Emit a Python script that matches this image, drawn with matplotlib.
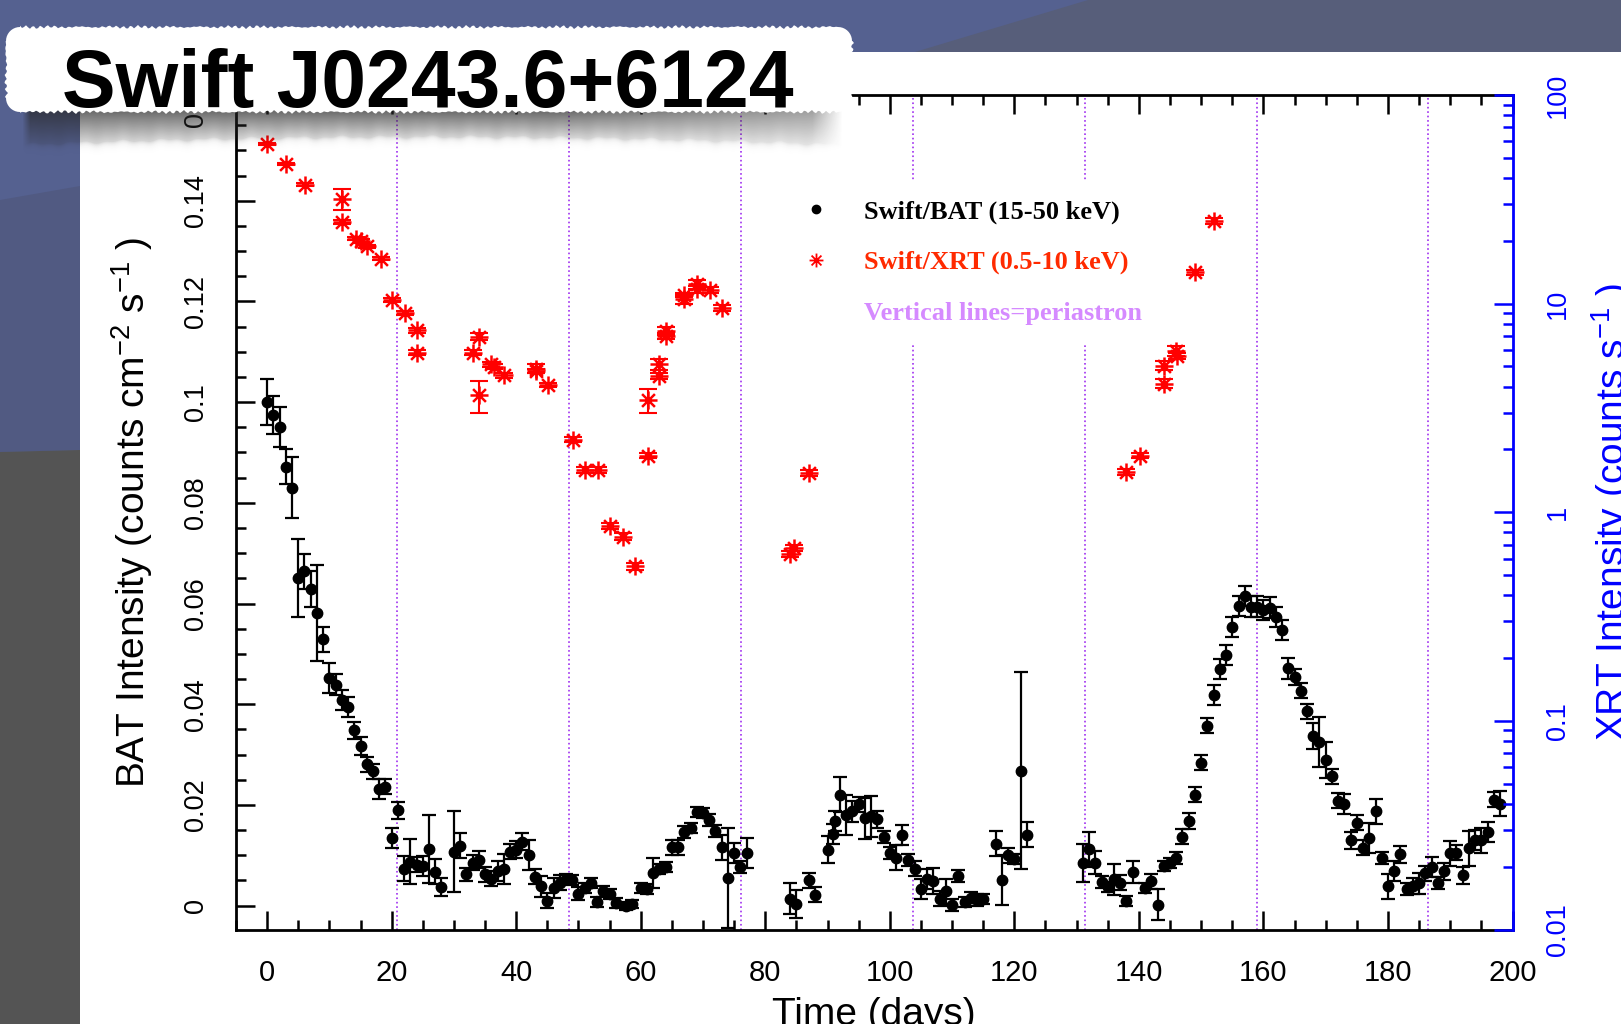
import numpy as np
import matplotlib
matplotlib.use('Agg')
import matplotlib.pyplot as plt
from matplotlib.path import Path
from matplotlib.patches import Polygon, Rectangle
from matplotlib.lines import Line2D
from matplotlib.ticker import MultipleLocator, FixedLocator, LogLocator, FuncFormatter, NullFormatter

# ---- Swift/BAT daily light curve (counts cm^-2 s^-1) ----
bat_day = [0, 1, 2, 3, 4, 5, 6, 7, 8, 9, 10, 11, 12, 13, 14, 15, 16, 17, 18, 19, 20, 21, 22, 23, 24, 25, 26, 27, 28,
           30, 31, 32, 33, 34, 35, 36, 37, 38, 39, 40, 41, 42, 43, 44, 45, 46, 47, 48, 49, 50, 51, 52, 53, 54, 55, 56,
           57.6, 58.6, 60, 61, 62, 63, 64, 65, 66, 67, 68, 69, 70, 71, 72, 73, 74, 75, 76, 77,
           84, 85, 87, 88, 90, 90.9, 91.2, 92, 93, 94, 95, 96, 97, 98, 99, 100, 101, 102, 103, 104, 105, 106,
           107, 108, 109, 110, 111, 112, 113, 114, 115, 117, 118, 119, 120, 121, 122,
           131, 132, 133, 134, 135, 136, 137, 138, 139,
           141, 142, 143, 144, 145, 146, 147, 148, 149, 150, 151, 152, 153, 154, 155, 156, 157, 158, 159, 160,
           161, 162, 163, 164, 165, 166, 167, 168, 169, 170, 171, 172, 173, 174, 175, 176, 177, 178, 179, 180,
           181, 182, 183, 184, 185, 186, 187, 188, 189, 190, 191, 192, 193, 194, 195, 196, 197, 198]
bat_rate = [0.1000, 0.0974, 0.0951, 0.0872, 0.0830, 0.0651, 0.0664, 0.0629, 0.0581, 0.0529, 0.0452, 0.0439,
            0.0408, 0.0394, 0.0348, 0.0317, 0.0281, 0.0267, 0.0232, 0.0236, 0.0135, 0.0189, 0.0073, 0.0087,
            0.0081, 0.0078, 0.0112, 0.0067, 0.0037,
            0.0107, 0.0119, 0.0062, 0.0085, 0.0091, 0.0062, 0.0053, 0.0069, 0.0073, 0.0107, 0.0111, 0.0127,
            0.0100, 0.0057, 0.0038, 0.0010, 0.0035, 0.0045, 0.0052, 0.0051, 0.0024, 0.0035, 0.0044, 0.0007,
            0.0028, 0.0023, 0.0006,
            0.0000, 0.0004, 0.0035, 0.0033, 0.0064, 0.0073, 0.0076, 0.0116, 0.0116, 0.0146, 0.0155, 0.0186,
            0.0184, 0.0170, 0.0149, 0.0116, 0.0055, 0.0104, 0.0076, 0.0104,
            0.0014, 0.0003, 0.0050, 0.0022, 0.0111, 0.0143, 0.0168, 0.0220, 0.0180, 0.0187, 0.0201, 0.0173,
            0.0177, 0.0171, 0.0137, 0.0104, 0.0095, 0.0141, 0.0090, 0.0073, 0.0033, 0.0052, 0.0049, 0.0014,
            0.0028, 0.0001, 0.0058, 0.0007, 0.0016, 0.0012, 0.0014, 0.0123, 0.0051, 0.0100, 0.0092, 0.0268,
            0.0141,
            0.0085, 0.0112, 0.0085, 0.0047, 0.0037, 0.0052, 0.0045, 0.0010, 0.0066,
            0.0035, 0.0048, 0.0002, 0.0078, 0.0085, 0.0095, 0.0137, 0.0168, 0.0220, 0.0284,
            0.0357, 0.0419, 0.0470, 0.0497, 0.0554, 0.0595, 0.0615, 0.0594, 0.0594, 0.0587,
            0.0592, 0.0574, 0.0547, 0.0471, 0.0454, 0.0427, 0.0386, 0.0337, 0.0325, 0.0289,
            0.0257, 0.0208, 0.0202, 0.0130, 0.0165, 0.0115, 0.0135, 0.0187, 0.0094, 0.0038,
            0.0068, 0.0102, 0.0033, 0.0039, 0.0044, 0.0064, 0.0077, 0.0045, 0.0068, 0.0104,
            0.0105, 0.0060, 0.0114, 0.0131, 0.0130, 0.0147, 0.0210, 0.0202]
bat_err = [0.0045, 0.0038, 0.0040, 0.0035, 0.0060, 0.0077, 0.0035, 0.0035, 0.0095, 0.0025, 0.0030, 0.0020,
           0.0020, 0.0020, 0.0017, 0.0017, 0.0015, 0.0015, 0.0020, 0.0015, 0.0020, 0.0017, 0.0025, 0.0045,
           0.0015, 0.0020, 0.0068, 0.0025, 0.0017,
           0.0080, 0.0025, 0.0013, 0.0015, 0.0017, 0.0015, 0.0015, 0.0020, 0.0030, 0.0015, 0.0017, 0.0017,
           0.0030, 0.0015, 0.0020, 0.0015, 0.0020, 0.0015, 0.0010, 0.0010, 0.0012, 0.0010, 0.0010, 0.0010,
           0.0010, 0.0010, 0.0010,
           0.0008, 0.0008, 0.0010, 0.0010, 0.0030, 0.0010, 0.0010, 0.0015, 0.0015, 0.0012, 0.0010, 0.0010,
           0.0010, 0.0012, 0.0012, 0.0025, 0.0100, 0.0020, 0.0012, 0.0030,
           0.0030, 0.0027, 0.0015, 0.0015, 0.0027, 0.0020, 0.0020, 0.0035, 0.0040, 0.0020, 0.0015, 0.0040,
           0.0040, 0.0017, 0.0012, 0.0012, 0.0025, 0.0020, 0.0012, 0.0015, 0.0020, 0.0020, 0.0025, 0.0015,
           0.0025, 0.0012, 0.0012, 0.0010, 0.0010, 0.0012, 0.0010, 0.0025, 0.0050, 0.0015, 0.0010, 0.0196,
           0.0025,
           0.0038, 0.0035, 0.0023, 0.0012, 0.0010, 0.0030, 0.0015, 0.0010, 0.0022,
           0.0010, 0.0015, 0.0030, 0.0010, 0.0010, 0.0012, 0.0015, 0.0015, 0.0015, 0.0015,
           0.0015, 0.0020, 0.0020, 0.0020, 0.0020, 0.0020, 0.0020, 0.0020, 0.0020, 0.0020,
           0.0020, 0.0020, 0.0020, 0.0020, 0.0015, 0.0015, 0.0015, 0.0025, 0.0050, 0.0035,
           0.0015, 0.0015, 0.0020, 0.0017, 0.0015, 0.0015, 0.0030, 0.0025, 0.0012, 0.0025,
           0.0020, 0.0017, 0.0012, 0.0015, 0.0020, 0.0015, 0.0020, 0.0012, 0.0017, 0.0025,
           0.0015, 0.0017, 0.0035, 0.0020, 0.0025, 0.0020, 0.0015, 0.0025]

# ---- Swift/XRT count rates (counts s^-1) ----
xrt_day = [0, 3.1, 6.1, 12.1, 12.1, 14.2, 15.0, 16.1, 18.3, 20.1, 22.1, 24.1, 24.1, 33.1, 34.1, 34.1, 36.0,
           36.4, 38.1, 43.1, 43.1, 45.1, 49.1, 51.1, 53.1, 55.1, 57.1, 59.1, 61.1, 61.1, 63.0, 63.0, 64.1,
           64.1, 67.0, 67.0, 69.0, 69.0, 71.1, 73.1, 84.0, 84.6, 87.0, 138.0, 140.1, 144.0, 144.0, 146.0,
           146.1, 149.0, 152.1]
xrt_rate = [58.2, 46.7, 37.2, 31.7, 24.7, 20.5, 20.0, 18.8, 16.4, 10.4, 9.0, 7.45, 5.82, 5.82, 6.95, 3.63,
            5.11, 4.99, 4.53, 4.76, 4.88, 4.07, 2.23, 1.60, 1.60, 0.857, 0.763, 0.551, 3.45, 1.87, 5.12, 4.50,
            7.39, 7.0, 10.5, 11.0, 12.4, 11.7, 11.6, 9.5, 0.631, 0.674, 1.55, 1.56, 1.87, 4.14, 5.04, 5.93,
            5.6, 14.1, 24.9]
xrt_err = [0.8, 0.7, 0.6, 3.7, 0.5, 0.4, 0.4, 0.4, 0.3, 0.2, 0.2, 0.2, 0.15, 0.15, 0.25, 0.65, 0.15, 0.15,
           0.12, 0.12, 0.25, 0.1, 0.06, 0.05, 0.05, 0.03, 0.03, 0.02, 0.45, 0.06, 0.3, 0.15, 0.35, 0.2, 0.5,
           0.3, 0.6, 0.4, 0.4, 0.3, 0.02, 0.02, 0.05, 0.05, 0.06, 0.2, 0.25, 0.3, 0.2, 0.4, 0.7]

# periastron passages (days)
periastron = [20.9, 48.5, 76.1, 103.7, 131.3, 158.9, 186.5]

legend_labels = ['Swift/BAT (15-50 keV)', 'Swift/XRT (0.5-10 keV)', 'Vertical lines=periastron']
legend_colors = ['black', '#ff2a00', '#d58aff']
xrt_ticks = [0.01, 0.1, 1, 10, 100]

plt.rcParams['font.family'] = ['Liberation Sans', 'DejaVu Sans']
plt.rcParams['mathtext.fontset'] = 'custom'
plt.rcParams['mathtext.rm'] = 'Liberation Sans'
plt.rcParams['mathtext.it'] = 'Liberation Sans:italic'
plt.rcParams['mathtext.bf'] = 'Liberation Sans:bold'

W, H = 1621, 1024
fig = plt.figure(figsize=(W / 100, H / 100), dpi=100)

# slide backdrop, drawn in pixel units
bg = fig.add_axes([0, 0, 1, 1], zorder=0)
bg.set_xlim(0, W)
bg.set_ylim(H, 0)
bg.axis('off')
bg.add_patch(Rectangle((0, 0), W, H, color='#556190', lw=0))
bg.add_patch(Polygon([(1088, 0), (W, 0), (W, 52), (915, 52)], closed=True, color='#575e7a', lw=0))
bg.add_patch(Polygon([(0, 200), (80, 186), (80, 450), (0, 452)], closed=True, color='#515a82', lw=0))
bg.add_patch(Polygon([(0, 452), (80, 450), (80, H), (0, H)], closed=True, color='#545454', lw=0))
bg.add_patch(Rectangle((80, 52), W - 80, H - 52, color='white', lw=0))

# main plot: BAT on the left axis
ax = fig.add_axes([236 / W, 1 - 929.5 / H, 1276.5 / W, 834.5 / H], zorder=2)
ax.patch.set_visible(False)

for d in periastron:
    ax.axvline(d, color='#a030f0', ls=':', lw=1.2, zorder=1)

ax.errorbar(bat_day, bat_rate, yerr=bat_err, fmt='o', color='black', ms=7.5,
            elinewidth=1.6, capsize=4.7, capthick=1.6, zorder=3)

ax.set_xlim(-5, 200)
ax.set_ylim(-0.00475, 0.161)
ax.xaxis.set_major_locator(MultipleLocator(20))
ax.xaxis.set_minor_locator(MultipleLocator(5))
ax.yaxis.set_major_locator(MultipleLocator(0.02))
ax.yaxis.set_minor_locator(MultipleLocator(0.005))
ax.yaxis.set_major_formatter(FuncFormatter(lambda v, p: f'{round(v, 4):g}'))

ax.tick_params(which='both', direction='in', top=True, right=False, width=1.8, color='black')
ax.tick_params(which='major', length=13.5)
ax.tick_params(which='minor', length=7)
ax.tick_params(axis='x', labelsize=21, pad=21)
ax.tick_params(axis='y', labelsize=19.5, pad=19.4, labelrotation=90)
for lab in ax.get_yticklabels():
    lab.set_va('center')
ax.spines['right'].set_visible(False)
for s in ['left', 'bottom', 'top']:
    ax.spines[s].set_linewidth(2.0)

ax.set_xlabel('Time (days)', fontsize=28)
ax.xaxis.set_label_coords(0.5, (929.5 - 997) / 834.5)
ax.set_ylabel('BAT Intensity (counts cm$^{-2}$ s$^{-1}$ )', fontsize=28)
ax.yaxis.set_label_coords((155 - 236) / 1276.5, 0.5)

# XRT on a log-scaled right axis
ax2 = ax.twinx()
ax2.set_zorder(3)
ax2.set_yscale('log')
ax2.set_ylim(0.01, 100)

asterisk = Path([(-1, 0), (1, 0), (0, -1), (0, 1), (-0.71, -0.71), (0.71, 0.71), (-0.71, 0.71), (0.71, -0.71)],
                [Path.MOVETO, Path.LINETO] * 4)

ax2.errorbar(xrt_day, xrt_rate, yerr=xrt_err, fmt='none', ecolor='red', elinewidth=1.5,
             capsize=6.5, capthick=1.5, zorder=3)
ax2.plot(xrt_day, xrt_rate, ls='none', marker=asterisk, ms=13, mec='red', mfc='none', mew=1.8, zorder=4)

ax2.yaxis.set_major_locator(FixedLocator(xrt_ticks))
ax2.yaxis.set_major_formatter(FuncFormatter(lambda v, p: f'{v:g}'))
ax2.yaxis.set_minor_locator(LogLocator(base=10, subs=np.arange(2, 10)))
ax2.yaxis.set_minor_formatter(NullFormatter())
ax2.tick_params(which='both', direction='in', colors='blue', width=1.8)
ax2.tick_params(which='major', length=13.5, labelsize=19.5, pad=23.4, labelrotation=90)
ax2.tick_params(which='minor', length=7)
for lab in ax2.get_yticklabels():
    lab.set_va('center')
for s in ['left', 'bottom', 'top']:
    ax2.spines[s].set_visible(False)
ax2.spines['right'].set_color('blue')
ax2.spines['right'].set_linewidth(2.0)
ax2.set_ylabel('XRT Intensity (counts s$^{-1}$ )', fontsize=28, color='blue')
ax2.yaxis.set_label_coords((1589 - 236) / 1276.5, 0.5)

# legend with proxy markers
h_bat = Line2D([], [], ls='none', marker='o', ms=6, color='black')
h_xrt = Line2D([], [], ls='none', marker=asterisk, ms=10, mec='red', mfc='none', mew=1.3)
h_per = Line2D([], [], ls='none')
leg = ax2.legend([h_bat, h_xrt, h_per], legend_labels, loc='upper left',
                 bbox_to_anchor=((770 - 236) / 1276.5, (929.5 - 180) / 834.5),
                 borderaxespad=0, borderpad=0.75, frameon=True, facecolor='white', edgecolor='none',
                 framealpha=1, fancybox=False, handlelength=2.0, handletextpad=0.8, labelspacing=1.02,
                 prop=dict(family='Liberation Serif', weight='bold', size=19))
for txt, c in zip(leg.get_texts(), legend_colors):
    txt.set_color(c)

# title sticker on top of everything
top = fig.add_axes([0, 0, 1, 1], zorder=10)
top.patch.set_visible(False)
top.axis('off')


def wobble(s, amp):
    return amp * (0.6 * np.sin(s * 0.9) + 0.4 * np.sin(s * 2.3 + 1.3) + 0.3 * np.sin(s * 0.21 + 0.5))


def torn_box(x0, y0, x1, y1, r, amp):
    pts = []
    xs = np.arange(x0 + r, x1 - r, 2.0)
    pts += [(x, y0 + wobble(x, amp)) for x in xs]
    a = np.linspace(-np.pi / 2, 0, 10)
    pts += list(zip(x1 - r + r * np.cos(a), y0 + r + r * np.sin(a)))
    ys = np.arange(y0 + r, y1 - r, 2.0)
    pts += [(x1 + wobble(y + 50, amp), y) for y in ys]
    a = np.linspace(0, np.pi / 2, 10)
    pts += list(zip(x1 - r + r * np.cos(a), y1 - r + r * np.sin(a)))
    pts += [(x, y1 + wobble(x + 17, amp)) for x in xs[::-1]]
    a = np.linspace(np.pi / 2, np.pi, 10)
    pts += list(zip(x0 + r + r * np.cos(a), y1 - r + r * np.sin(a)))
    pts += [(x0 + wobble(y + 90, amp), y) for y in ys[::-1]]
    a = np.linspace(np.pi, 1.5 * np.pi, 10)
    pts += list(zip(x0 + r + r * np.cos(a), y0 + r + r * np.sin(a)))
    return pts


# soft shadow under the sticker: broad grey band that fades downwards
sx = np.arange(18, 846)
sy = np.arange(100, 162)
XX, YY = np.meshgrid(sx, sy)
edge = 137 + 8 * ((XX - 430) / 410.0) ** 2 + 1.0 * np.sin(XX / 7.0) + 0.7 * np.sin(XX / 2.9)
t = np.clip((YY - 112) / (edge - 112), 0, None)
inside = np.clip(0.68 - 0.48 * t, 0, None) * (t <= 1)
outside = 0.2 * np.exp(-np.clip(YY - edge, 0, None) / 3.0) * (t > 1)
alpha = inside + outside
alpha *= np.clip((XX - 22) / 8.0, 0, 1) * np.clip((842 - XX) / 30.0, 0, 1) * (1 - 0.4 * np.clip((XX - 560) / 280.0, 0, 1))
shade = np.zeros(XX.shape + (4,))
shade[..., :3] = 0.15
shade[..., 3] = alpha
top.imshow(shade, extent=(17.5, 845.5, 161.5, 99.5), origin='upper', interpolation='bilinear',
           aspect='auto', zorder=1)

top.add_patch(Polygon(torn_box(6, 27, 852, 112, 14, 1.6), closed=True, facecolor='white',
                      edgecolor='none', zorder=2))
top.text(62, 106.5, 'Swift J0243.6+6124', fontsize=58, fontweight='bold', family='Liberation Sans',
         ha='left', va='baseline', zorder=3)
top.set_xlim(0, W)
top.set_ylim(H, 0)

fig.savefig('out.png', dpi=100)
